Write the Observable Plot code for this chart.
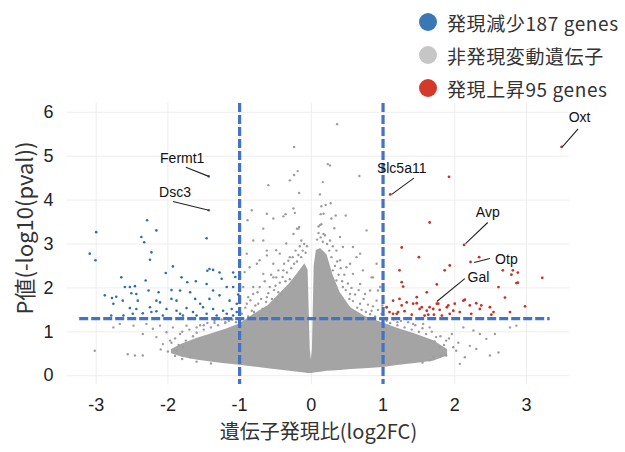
<!DOCTYPE html>
<html><head><meta charset="utf-8">
<script src="https://cdn.jsdelivr.net/npm/d3@7"></script>
<script src="https://cdn.jsdelivr.net/npm/@observablehq/plot@0.6"></script>
<style>
body{margin:0;background:#fff;}
#wrap{position:relative;width:625px;height:452px;overflow:hidden;background:#fff;}
.legend{position:absolute;left:419px;top:0;font-family:"Noto Sans CJK JP";font-size:19px;letter-spacing:0.6px;color:#333;}
.item{position:absolute;left:0;white-space:nowrap;display:flex;align-items:center;height:30px;}
.dot{width:18px;height:18px;border-radius:50%;margin-right:10px;flex:none;}
</style></head>
<body>
<div id="wrap"></div>
<script>
// ---- data ----
const xTicks = [-3, -2, -1, 0, 1, 2, 3];
const yTicks = [0, 1, 2, 3, 4, 5, 6];
const legendLabels = ["発現減少187 genes", "非発現変動遺伝子", "発現上昇95 genes"];
const legendColors = ["#3a78b5", "#c6c6c6", "#d43a2a"];
const thresholdFC = [-1, 1];
const thresholdP = [{y: 1.3, x1: -3.23, x2: 3.33}];

// dense cloud of non-significant genes (envelope)
const cloudX  = [-1.95,-1.8,-1.6,-1.4,-1.2,-1.0,-0.8,-0.6,-0.45,-0.3,-0.18,-0.09,-0.045,-0.015,0,0.015,0.04,0.07,0.13,0.22,0.3,0.4,0.55,0.75,1.0,1.2,1.45,1.7,1.9];
const cloudHi = [0.6,0.72,0.85,0.95,1.05,1.18,1.4,1.6,1.85,2.1,2.35,2.55,2.4,0.6,0.36,0.6,2.5,2.85,2.9,2.75,2.3,1.9,1.55,1.35,1.2,1.08,0.95,0.8,0.6];
const cloudLo = [0.5,0.42,0.36,0.31,0.27,0.24,0.2,0.16,0.13,0.1,0.08,0.06,0.05,0.05,0.05,0.05,0.06,0.07,0.08,0.1,0.11,0.12,0.14,0.16,0.19,0.23,0.28,0.33,0.45];

// scattered non-significant genes
const grayGenes = [
[0.36,5.73],[-0.24,5.21],[0.23,4.82],[0.26,4.79],[-0.19,4.66],[-0.24,4.57],[-0.30,4.45],[0.67,4.55],[0.16,4.41],[-0.60,4.34],[-0.17,4.16],[0.12,4.13],[0.27,3.93],[0.14,3.86],[0.20,3.89],[-0.83,3.77],[-0.62,3.69],[-0.53,3.58],[-0.39,3.63],[-0.36,3.68],[-0.25,3.81],[-0.23,3.71],[0.13,3.68],[0.17,3.69],[0.28,3.58],[0.34,3.65],[0.48,3.65],[0.10,3.40],[0.14,3.45],[-0.17,3.39],[-0.20,3.35],[-0.67,3.35],[0.32,3.36],[-0.89,3.54],
[-0.90,2.78],[-0.81,3.08],[-0.86,2.47],[-0.72,2.63],[-0.62,2.85],[-0.67,2.32],[-0.53,2.55],[-0.49,2.24],[-0.44,2.78],[-0.39,2.40],[-0.35,3.01],[-0.30,2.70],[-0.25,3.23],[-0.18,3.35],[-0.14,3.08],[-0.95,2.02],[-0.81,1.86],[-0.90,1.64],[-0.72,2.02],[-0.62,1.79],[-0.97,1.41],[-0.83,1.48],[-0.58,2.02],[-0.46,1.90],[-0.74,1.64],
[-0.93,2.36],[-0.76,2.55],[-0.62,2.74],[-0.67,3.08],[-0.49,2.86],[-0.81,2.02],[-0.88,1.79],[-0.53,2.24],
[-0.95,1.30],[-0.92,1.55],[-0.88,1.35],[-0.85,1.72],[-0.80,1.45],[-0.78,1.60],[-0.75,1.90],[-0.72,1.38],[-0.70,1.75],[-0.68,1.52],[-0.65,2.15],[-0.63,1.68],[-0.60,1.88],[-0.58,1.45],[-0.56,2.30],[-0.55,1.75],[-0.52,1.95],[-0.50,2.05],[-0.48,1.70],[-0.46,2.40],[-0.44,2.12],[-0.42,1.85],[-0.40,2.25],[-0.38,2.55],[-0.36,2.15],[-0.34,2.35],[-0.32,2.62],[-0.30,2.20],[-0.28,2.45],[-0.26,2.70],[-0.24,2.55],[-0.22,2.85],[-0.20,2.60],[-0.18,2.75],[-0.16,2.95],[-0.14,2.70],[-0.12,2.85],[-0.10,3.00],[-0.08,2.80],[-0.06,2.95],
[0.12,3.43],[0.17,3.23],[0.26,3.08],[0.35,2.85],[0.40,2.63],[0.44,2.93],[0.54,2.55],[0.58,2.32],[0.63,2.70],[0.68,2.09],[0.72,2.40],[0.82,1.94],[0.86,2.24],[0.91,1.71],[0.96,2.02],[0.54,1.86],[0.68,1.64],[0.84,1.48],[0.44,2.02],[0.30,2.40],[0.35,2.17],[0.98,1.41],
[0.40,3.16],[0.58,2.93],[0.77,3.31],[0.68,2.78],[0.91,2.55],[0.84,2.24],[0.93,1.94],[0.75,1.86],[0.49,2.47],
[0.08,3.10],[0.10,3.25],[0.13,3.15],[0.16,3.05],[0.19,3.20],[0.22,3.00],[0.25,2.85],[0.28,2.70],[0.30,2.95],[0.33,2.50],[0.36,2.60],[0.38,2.30],[0.41,2.45],[0.43,2.15],[0.46,2.30],[0.48,1.95],[0.51,2.10],[0.53,1.75],[0.56,2.00],[0.58,1.70],[0.61,1.85],[0.64,1.55],[0.66,1.95],[0.70,1.50],[0.73,1.75],[0.76,1.45],[0.79,1.62],[0.82,1.40],[0.86,1.58],[0.89,1.35],[0.93,1.50],[0.96,1.30],[0.99,1.60],
[-3.02,0.57],[-2.56,0.49],[-2.46,0.46],[-2.35,0.46],[-2.48,1.14],[-2.30,1.18],[-2.21,1.07],[-2.11,1.14],[-2.02,0.99],[-1.93,1.10],[-2.16,0.88],[-2.07,0.72],[-1.97,0.80],[-1.83,0.95],[-1.79,0.65],[-1.88,0.57],[-1.74,1.14],[-1.69,0.42],[-2.35,0.95],[-2.67,1.18],[-2.76,1.10],[-1.60,1.10],[-1.50,1.15],[-1.35,1.20],[-1.20,1.22],
[-1.95,0.75],[-1.90,0.85],[-1.85,0.70],[-1.80,1.00],[-1.75,0.80],[-1.70,1.05],[-1.65,0.90],[-1.60,0.98],[-1.55,1.15],[-1.50,1.05],[-1.45,1.20],[-1.40,1.10],[-1.35,1.25],[-1.30,1.15],[-1.25,1.28],[-1.20,1.20],[-1.15,1.25],[-1.10,1.28],[-1.05,1.22],[-1.9,0.45],[-1.8,0.38],[-1.6,0.32],[-1.4,0.28],[-2.0,0.55],[-2.1,0.60],
[2.26,1.03],[2.35,0.95],[2.44,0.84],[2.56,0.95],[2.77,1.10],[2.86,1.14],[2.21,0.68],[2.30,0.61],[2.49,0.46],[2.61,0.53],[2.14,0.42],[2.07,0.27],[2.02,0.57],[1.88,0.80],[1.96,0.95],[2.12,1.10],[1.65,1.10],[1.74,0.88],[1.79,0.65],[1.88,0.46],[1.70,0.42],[1.56,1.18],[1.42,1.18],[1.20,1.22],[1.05,1.25],
[1.05,1.28],[1.10,1.20],[1.15,1.28],[1.20,1.15],[1.25,1.25],[1.30,1.10],[1.35,1.22],[1.40,1.05],[1.45,1.15],[1.50,1.00],[1.55,1.08],[1.60,0.95],[1.68,1.00],[1.72,0.78],[1.80,0.90],[1.85,0.70],[1.92,0.85],[1.98,0.65],[2.05,0.75],[1.65,0.35],[1.55,0.30],[1.80,0.45]
];

// significantly down-regulated genes
const downGenes = [
[-3.00,3.27],[-3.09,2.78],[-3.01,2.63],[-2.37,3.16],[-2.33,3.04],[-2.16,3.31],[-2.23,2.81],[-2.25,2.64],[-2.29,3.54],[-1.46,3.13],[-1.93,2.49],[-2.03,2.34],[-2.65,2.24],[-2.31,2.17],[-1.45,2.39],[-1.42,2.43],[-1.37,2.41],[-1.28,2.35],[-1.09,2.35],[-1.25,2.21],[-1.81,2.24],[-1.73,2.13],[-1.61,2.15],[-2.72,1.80],[-2.60,2.02],[-2.53,2.02],[-2.46,2.04],[-2.27,1.94],[-2.13,1.90],[-1.95,1.95],[-1.83,1.94],[-1.69,1.90],[-1.46,2.09],[-1.37,1.94],[-1.18,2.02],[-2.88,1.83],[-2.78,1.77],[-2.51,1.88],[-2.44,1.86],[-2.63,1.71],[-2.42,1.71],[-2.16,1.71],[-2.11,1.67],[-1.95,1.75],[-1.88,1.71],[-1.62,1.75],[-1.55,1.64],[-1.42,1.75],[-1.28,1.83],[-1.14,1.71],[-1.09,2.02],[-2.76,1.64],[-2.53,1.54],[-2.44,1.52],[-2.25,1.56],[-2.16,1.47],[-2.02,1.52],[-1.88,1.48],[-1.83,1.41],[-1.74,1.54],[-1.65,1.45],[-1.51,1.56],[-1.37,1.52],[-1.23,1.48],[-1.11,1.52],[-1.04,1.64],[-2.49,1.41],[-2.35,1.42],[-2.23,1.45],[-2.07,1.37],[-1.79,1.37],[-1.60,1.37],[-1.46,1.41],[-1.32,1.37],[-1.18,1.41],[-1.09,1.37],[-1.04,1.45],[-2.79,1.37],[-2.62,1.37],[-1.06,2.25],[-1.02,1.85],[-1.43,4.54],[-1.43,3.77]
];

// significantly up-regulated genes
const upGenes = [
[1.10,4.13],[1.92,4.53],[1.65,3.49],[2.13,2.98],[1.26,2.92],[1.50,2.70],[2.22,2.59],[2.34,2.70],[1.93,2.51],[1.86,2.40],[2.81,2.40],[2.79,2.30],[2.86,2.11],[3.22,2.23],[2.61,2.02],[1.26,2.13],[1.28,2.03],[1.75,2.08],[1.75,1.64],[2.70,1.78],[2.98,1.58],[2.30,1.65],[2.14,1.73],[2.00,1.64],[1.89,1.56],[2.35,1.52],[2.49,1.56],[2.54,1.45],[2.77,1.45],[2.23,1.41],[2.07,1.45],[1.93,1.41],[1.79,1.50],[1.65,1.56],[1.51,1.52],[1.42,1.64],[1.33,1.67],[1.23,1.75],[1.14,1.71],[1.05,1.56],[1.09,1.45],[1.19,1.41],[1.30,1.47],[1.40,1.39],[1.58,1.37],[1.71,1.39],[1.47,1.79],[1.61,1.90],[1.23,2.40],[1.14,1.41],[1.21,1.45],[1.26,1.60],[1.47,1.65],[1.54,1.56],[1.61,1.48],[1.70,1.52],[1.77,1.64],[1.91,1.60],[1.98,1.48],[2.12,1.71],[2.21,1.60],[2.37,1.60],[2.51,1.39],[1.63,1.39],[1.82,1.37],[2.88,2.35],[2.67,2.40],[2.88,2.12],[3.49,5.21]
];

// gene labels
const labelNames  = ["Fermt1","Dsc3","Slc5a11","Avp","Otp","Gal","Oxt"];
const labelPointX = [-1.43,-1.43,1.12,2.15,2.27,1.75,3.50];
const labelPointY = [4.54,3.77,4.13,3.01,2.58,1.69,5.21];
const labelLineX  = [-1.75,-1.93,1.43,2.46,2.49,2.14,3.72];
const labelLineY  = [4.75,3.97,4.50,3.49,2.67,2.21,5.62];
const labelTextX  = [-1.80,-1.90,1.26,2.46,2.72,2.33,3.74];
const labelTextY  = [4.95,4.18,4.71,3.72,2.64,2.23,5.89];

const xTitle = "遺伝子発現比(log2FC)";
const yTitle = "P値(-log10(pval))";

// ---- build tables ----
const cloud = cloudX.map((x, i) => ({x, lo: cloudLo[i], hi: cloudHi[i]}));
const toPts = arr => arr.map(([x, y]) => ({x, y}));
const labels = labelNames.map((name, i) => ({name, px: labelPointX[i], py: labelPointY[i], lx: labelLineX[i], ly: labelLineY[i], tx: labelTextX[i], ty: labelTextY[i]}));
const fmt = d => d < 0 ? "-" + Math.abs(d) : String(d);
const dash = {stroke: "#4472c4", strokeWidth: 3.2, strokeDasharray: "9,3"};

const plot = Plot.plot({
  width: 625, height: 452,
  marginLeft: 67, marginRight: 56, marginTop: 103, marginBottom: 68,
  x: {domain: [-3.4, 3.6]},
  y: {domain: [-0.2, 6.2]},
  style: {fontFamily: "'Liberation Sans', Arial, sans-serif", background: "#fff", overflow: "visible"},
  marks: [
    Plot.gridX(xTicks, {stroke: "#ededed", strokeOpacity: 1}),
    Plot.gridY(yTicks, {stroke: "#ededed", strokeOpacity: 1}),
    Plot.areaY(cloud, {x: "x", y1: "lo", y2: "hi", fill: "#a4a4a4", curve: "linear"}),
    Plot.dot(toPts(grayGenes), {x: "x", y: "y", r: 1.2, fill: "#9c9c9c", stroke: null}),
    Plot.dot(toPts(downGenes), {x: "x", y: "y", r: 1.3, fill: "#2f6ea8", stroke: null}),
    Plot.dot(toPts(upGenes), {x: "x", y: "y", r: 1.4, fill: "#c4342c", stroke: null}),
    Plot.ruleX(thresholdFC, dash),
    Plot.ruleY(thresholdP, {y: "y", x1: "x1", x2: "x2", ...dash}),
    Plot.link(labels, {x1: "px", y1: "py", x2: "lx", y2: "ly", stroke: "#222", strokeWidth: 1.1}),
    Plot.text(labels, {x: "tx", y: "ty", text: "name", fontSize: 14, fill: "#111", textAnchor: "middle"}),
    Plot.axisX(xTicks, {tickSize: 0, tickPadding: 14, fontSize: 18, tickFormat: fmt, label: null, color: "#222"}),
    Plot.axisY(yTicks, {tickSize: 0, tickPadding: 14, fontSize: 18, tickFormat: fmt, label: null, color: "#222"}),
    Plot.text([xTitle], {frameAnchor: "bottom", textAnchor: "middle", dy: 54, fontSize: 20, fill: "#333", fontFamily: "Noto Sans CJK JP", ariaLabel: "xtitle"}),
    Plot.text([yTitle], {frameAnchor: "left", textAnchor: "middle", dx: -42, dy: -16, rotate: -90, fontSize: 22, fill: "#333", fontFamily: "Noto Sans CJK JP", ariaLabel: "ytitle"})
  ]
});

d3.select(plot).select('g[aria-label="xtitle"]').style("letter-spacing", "3px");
d3.select(plot).select('g[aria-label="ytitle"]').style("letter-spacing", "4.5px");

const wrap = document.getElementById("wrap");
wrap.appendChild(plot);
plot.style.position = "absolute"; plot.style.left = "0"; plot.style.top = "0";

const legend = document.createElement("div");
legend.className = "legend";
const centers = [22, 55, 88];
legendLabels.forEach((t, i) => {
  const item = document.createElement("div");
  item.className = "item";
  item.style.top = (centers[i] - 15) + "px";
  const dot = document.createElement("span");
  dot.className = "dot";
  dot.style.background = legendColors[i];
  const txt = document.createElement("span");
  txt.textContent = t;
  item.appendChild(dot); item.appendChild(txt);
  legend.appendChild(item);
});
wrap.appendChild(legend);
</script>
</body></html>
